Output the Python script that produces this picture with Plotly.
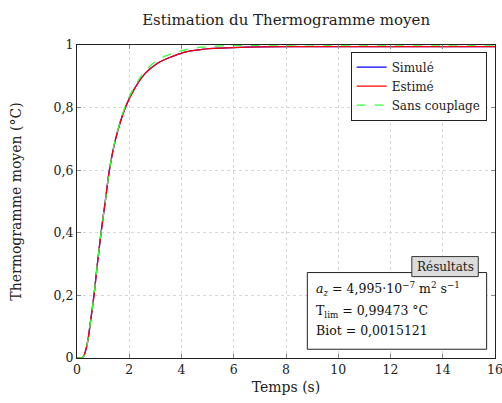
import plotly.graph_objects as go

# ---- data ----
temps_sim = [0, 0.15, 0.25, 0.35, 0.42, 0.51, 0.65, 0.77, 0.92, 1.09, 1.24, 1.47,
             1.85, 2.17, 2.62, 3.07, 3.64, 4.21, 4.79, 5.5, 6.5, 8, 10, 12, 14, 16]
simule = [0, 0, 0.005, 0.03, 0.058, 0.112, 0.2, 0.293, 0.4, 0.505, 0.6, 0.697,
          0.8, 0.856, 0.91, 0.941, 0.963, 0.979, 0.986, 0.99, 0.993, 0.9945,
          0.9947, 0.9947, 0.9947, 0.9947]
estime = [0, 0, 0.005, 0.03, 0.058, 0.112, 0.2, 0.293, 0.4, 0.505, 0.6, 0.697,
          0.8, 0.856, 0.91, 0.941, 0.963, 0.979, 0.986, 0.99, 0.993, 0.9945,
          0.9947, 0.9947, 0.9947, 0.9947]
sans_couplage = [0, 0, 0.005, 0.03, 0.058, 0.112, 0.2, 0.293, 0.4, 0.505, 0.6, 0.699,
                 0.805, 0.862, 0.918, 0.951, 0.973, 0.986, 0.993, 0.997, 0.999, 1.0,
                 1.0, 1.0, 1.0, 1.0]

x_ticks = [0, 2, 4, 6, 8, 10, 12, 14, 16]
x_ticktext = ["0", "2", "4", "6", "8", "10", "12", "14", "16"]
y_ticks = [0, 0.2, 0.4, 0.6, 0.8, 1.0]
y_ticktext = ["0", "0,2", "0,4", "0,6", "0,8", "1"]

titre = "Estimation du Thermogramme moyen"
res_titre = "Résultats"
res_lines = ["<i>a</i><sub><i>z</i></sub> = 4,995·10<sup>−7</sup> m<sup>2</sup> s<sup>−1</sup>",
             "T<sub>lim</sub> = 0,99473 °C",
             "Biot = 0,0015121"]

FONT = "DejaVu Serif"

fig = go.Figure()
fig.add_trace(go.Scatter(x=temps_sim, y=simule, mode="lines", name="Simulé",
                         line=dict(color="#0000ff", width=1.3, shape="spline")))
fig.add_trace(go.Scatter(x=temps_sim, y=estime, mode="lines", name="Estimé",
                         line=dict(color="#ff0000", width=1.3, shape="spline")))
fig.add_trace(go.Scatter(x=temps_sim, y=sans_couplage, mode="lines", name="Sans couplage",
                         line=dict(color="#33ff33", width=1.3, dash="dash", shape="spline")))

axis_common = dict(showline=True, linecolor="#222", linewidth=1, mirror="allticks",
                   ticks="inside", ticklen=4, tickcolor="#888", showgrid=True,
                   gridcolor="#d8d8d8", griddash="dot", gridwidth=1, zeroline=False,
                   ticklabeloverflow="allow", automargin=False,
                   tickfont=dict(family=FONT, size=12.5, color="#222"))

fig.update_xaxes(range=[0, 16], tickvals=x_ticks, ticktext=x_ticktext,
                 title=dict(text="Temps (s)", font=dict(family=FONT, size=14, color="#222"), standoff=6),
                 **axis_common)
fig.update_yaxes(range=[0, 1], tickvals=y_ticks, ticktext=y_ticktext,
                 title=dict(text="Thermogramme moyen (°C)", font=dict(family=FONT, size=14, color="#222"), standoff=28),
                 **axis_common)

# results box
fig.add_shape(type="rect", xref="paper", yref="paper", x0=0.551, x1=0.980, y0=0.028, y1=0.273,
              line=dict(color="#222", width=1), fillcolor="white")
fig.add_shape(type="rect", xref="paper", yref="paper", x0=0.801, x1=0.960, y0=0.260, y1=0.324,
              line=dict(color="#333", width=1), fillcolor="#dcdcdc")
fig.add_annotation(xref="paper", yref="paper", x=0.8805, y=0.292, text=res_titre,
                   xanchor="center", yanchor="middle",
                   showarrow=False, font=dict(family=FONT, size=12, color="#222"))
for ln, yy in zip(res_lines, [0.222, 0.150, 0.087]):
    fig.add_annotation(xref="paper", yref="paper", x=0.568, y=yy, text=ln,
                       xanchor="left", yanchor="middle",
                       showarrow=False, font=dict(family=FONT, size=12.5, color="#111"))

fig.update_layout(
    width=502, height=403,
    margin=dict(l=77, r=7, t=45, b=45, autoexpand=False),
    paper_bgcolor="white", plot_bgcolor="white",
    title=dict(text=titre, x=0.57, xanchor="center", y=0.95, yanchor="middle",
               font=dict(family=FONT, size=15, color="#222")),
    showlegend=True,
    legend=dict(x=0.980, y=0.979, xanchor="right", yanchor="top",
                bordercolor="#222", borderwidth=1, bgcolor="white",
                font=dict(family=FONT, size=12, color="#222"),
                tracegroupgap=0, itemwidth=30),
)

fig.write_html("out.html", config={"displayModeBar": False},
               post_script="document.body.style.margin='0';document.body.style.overflow='hidden';")
